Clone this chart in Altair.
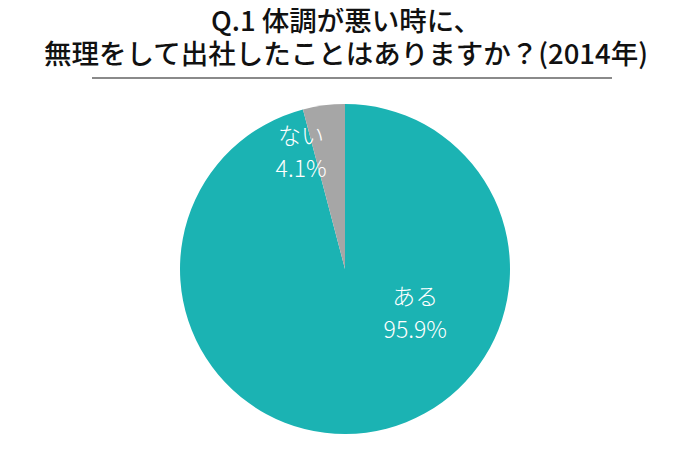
import altair as alt
import pandas as pd

categories = ["ある", "ない"]
values = [95.9, 4.1]
colors = ["#1BB3B3", "#A6A6A6"]
label_texts = ["95.9%", "4.1%"]
label_angles = [112.5, 341.6]
label_radii = [76, 139]
title_lines = ["Q.1 体調が悪い時に、", "無理をして出社したことはありますか？(2014年)"]

W, H = 674, 444
CX, CY, R = 337, 261, 165

df = pd.DataFrame({
    "cat": categories,
    "value": values,
    "order": list(range(len(categories))),
    "label": [[c, t] for c, t in zip(categories, label_texts)],
    "ang": label_angles,
    "rad": label_radii,
})

pie = alt.Chart(df).mark_arc(outerRadius=R).encode(
    theta=alt.Theta("value:Q", stack=True),
    order=alt.Order("order:Q"),
    color=alt.Color("cat:N", scale=alt.Scale(domain=categories, range=colors), legend=None),
    x=alt.value(CX), y=alt.value(CY),
)

labels = alt.Chart(df).mark_text(
    color="white", fontSize=23, font="Noto Sans CJK JP", fontWeight=300,
    lineHeight=33, baseline="middle", align="center",
).encode(
    theta=alt.Theta("ang:Q", scale=alt.Scale(type="linear", domain=[0, 360], range=[0, 6.283185307]), stack=False),
    radius=alt.Radius("rad:Q", scale=alt.Scale(type="linear", domain=[0, 1000], range=[0, 1000], zero=True)),
    text="label",
    x=alt.value(CX), y=alt.value(CY),
)

tdf = pd.DataFrame({"t": title_lines, "i": [0, 1]})
title = alt.Chart(tdf).mark_text(
    fontSize=27.5, font="Noto Sans CJK JP", fontWeight=500, color="#111111",
    align="center", baseline="middle",
).encode(
    text="t:N",
    x=alt.value(W / 2 + 1),
    y=alt.Y("i:Q", scale=alt.Scale(domain=[0, 1], range=[15, 48]), axis=None),
)

underline = alt.Chart(tdf.head(1)).mark_rule(color="#8a8a8a", strokeWidth=2).encode(
    x=alt.value(84), x2=alt.value(604), y=alt.value(70),
)

chart = alt.layer(pie, labels, title, underline).resolve_scale(
    theta="independent", radius="independent", y="independent"
).properties(
    width=W, height=H, autosize=alt.AutoSizeParams(type="none"), padding=0,
    background="white",
).configure_view(stroke=None)

chart.save("out.html", embed_options={"renderer": "svg", "actions": False})
